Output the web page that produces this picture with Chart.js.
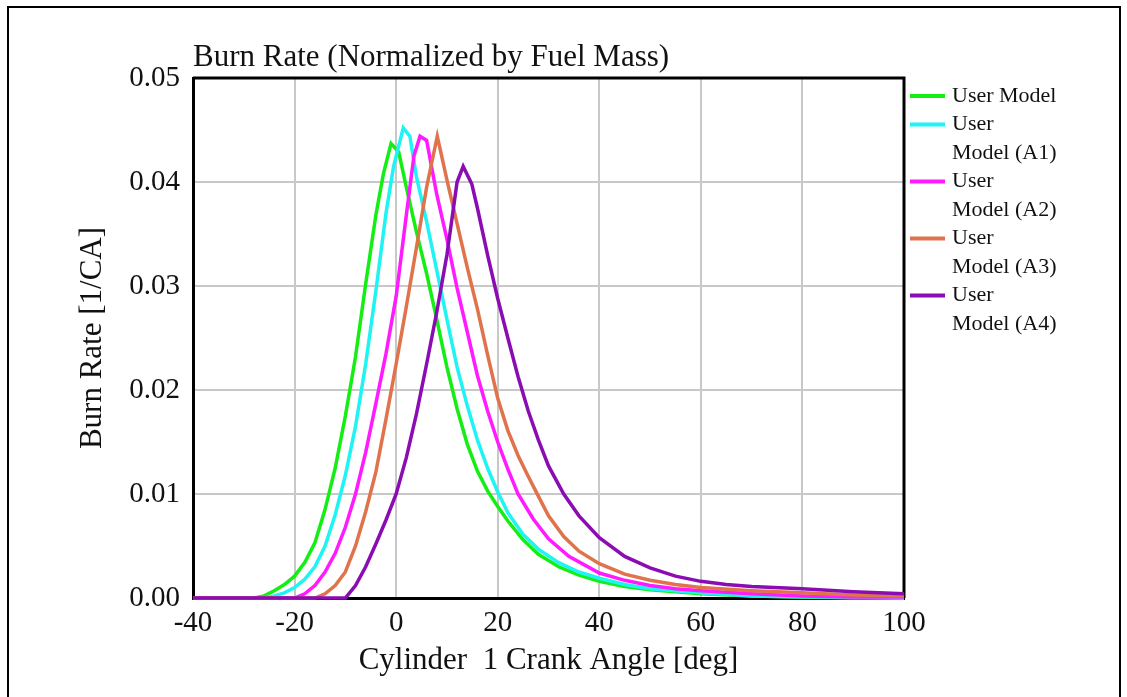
<!DOCTYPE html>
<html><head><meta charset="utf-8">
<script src="https://cdn.jsdelivr.net/npm/chart.js@4.4.0/dist/chart.umd.min.js"></script>
<style>html,body{margin:0;padding:0;background:#fff;}#wrap{width:1127px;height:697px;}</style>
</head><body><div id="wrap"><canvas id="c" width="1127" height="697"></canvas></div>
<script>
const titleText = 'Burn Rate (Normalized by Fuel Mass)';
const xTitle = 'Cylinder  1 Crank Angle [deg]';
const yTitle = 'Burn Rate [1/CA]';
const seriesLabels = ['User Model', 'User Model (A1)', 'User Model (A2)', 'User Model (A3)', 'User Model (A4)'];
const legendLines = [['User Model'], ['User', 'Model (A1)'], ['User', 'Model (A2)'], ['User', 'Model (A3)'], ['User', 'Model (A4)']];
const seriesColors = ['#14ee14', '#1ff4f4', '#ff1aff', '#e0724c', '#8a0cb2'];

const greenX = [-40,-28,-26,-24,-22,-20,-18,-16,-14,-12,-10,-8,-6,-4,-2.5,-1,0.5,2,4,6,8,10,12,14,16,18,20,22,25,28,32,36,40,45,50,55,60,70,80,90,100];
const greenY = [0,0,0.0002,0.0007,0.0013,0.0021,0.0034,0.0053,0.0085,0.0125,0.0175,0.0232,0.0302,0.0368,0.0408,0.0437,0.0429,0.0395,0.0352,0.0312,0.0268,0.0222,0.0182,0.0148,0.0122,0.0103,0.0088,0.0074,0.0056,0.0042,0.0030,0.0022,0.0016,0.0011,0.0008,0.0006,0.0004,0.0002,0.0001,0,0];

const cyanX = [-40,-26,-24,-22,-20,-18,-16,-14,-12,-10,-8,-6,-4,-2,-0.5,1.4,2.7,4,6,8,10,12,14,16,18,20,22,25,28,32,36,40,45,50,55,60,70,80,90,100];
const cyanY = [0,0,0.0002,0.0005,0.0010,0.0018,0.0030,0.0050,0.0080,0.0118,0.0165,0.0225,0.0295,0.0370,0.0415,0.0452,0.0444,0.0405,0.0362,0.0315,0.0268,0.0222,0.0185,0.0152,0.0125,0.0102,0.0082,0.0061,0.0047,0.0034,0.0025,0.0019,0.0013,0.0009,0.0007,0.0005,0.0002,0.0001,0.0001,0];

const magentaX = [-40,-20,-18,-16,-14,-12,-10,-8,-6,-4,-2,0,2,3.5,4.7,6,8,10,12,14,16,18,20,22,24,27,30,34,40,45,50,55,60,70,80,90,100];
const magentaY = [0,0,0.0004,0.0012,0.0025,0.0043,0.0068,0.0100,0.0140,0.0187,0.0235,0.0290,0.0368,0.0425,0.0444,0.0440,0.0388,0.0345,0.0298,0.0256,0.0214,0.0180,0.0150,0.0124,0.0100,0.0076,0.0057,0.0040,0.0024,0.0017,0.0012,0.0009,0.0007,0.0004,0.0002,0.0001,0.0001];

const orangeX = [-40,-16,-14,-12,-10,-8,-6,-4,-2,0,2,4,6,8.1,10,12,14,16,18,20,22,24,26,28,30,33,36,40,45,50,55,60,70,80,90,100];
const orangeY = [0,0,0.0004,0.0012,0.0025,0.0050,0.0083,0.0121,0.0172,0.0225,0.0280,0.0337,0.0395,0.0444,0.0402,0.0360,0.0318,0.0278,0.0234,0.0192,0.0161,0.0137,0.0117,0.0098,0.0079,0.0059,0.0045,0.0033,0.0023,0.0017,0.0013,0.0010,0.0007,0.0005,0.0003,0.0002];

const purpleX = [-40,-10,-8,-6,-4,-2,0,2,4,6,8,10,11,12,13.2,14.9,16,18,20,22,24,26,28,30,33,36,40,45,50,55,60,65,70,80,90,100];
const purpleY = [0,0,0.0012,0.0030,0.0052,0.0075,0.0100,0.0135,0.0177,0.0225,0.0275,0.0330,0.0365,0.0400,0.0415,0.0398,0.0375,0.0330,0.0288,0.0250,0.0213,0.0180,0.0152,0.0127,0.0100,0.0079,0.0058,0.0040,0.0029,0.0021,0.0016,0.0013,0.0011,0.0009,0.0006,0.0004];

const xTicks = [-40,-20,0,20,40,60,80,100];
const yTicks = [0,0.01,0.02,0.03,0.04,0.05];

const allX = [greenX, cyanX, magentaX, orangeX, purpleX];
const allY = [greenY, cyanY, magentaY, orangeY, purpleY];

const SERIF = '"Liberation Serif", "Times New Roman", serif';

const datasets = seriesLabels.map((lab, i) => ({
  label: lab,
  data: allX[i].map((x, j) => ({x: x, y: allY[i][j]})),
  borderColor: seriesColors[i],
  backgroundColor: seriesColors[i],
  borderWidth: 3.5,
  pointRadius: 0,
  tension: 0,
  fill: false,
  order: seriesLabels.length - i,
  clip: 4
}));

const decor = {
  id: 'decor',
  beforeDraw(chart) {
    const ctx = chart.ctx;
    ctx.save();
    ctx.fillStyle = '#fff';
    ctx.fillRect(0, 0, chart.width, chart.height);
    ctx.strokeStyle = '#000';
    ctx.lineWidth = 2;
    ctx.beginPath();
    ctx.moveTo(8, 697); ctx.lineTo(8, 7); ctx.lineTo(1120, 7); ctx.lineTo(1120, 697);
    ctx.stroke();
    ctx.restore();
  },
  beforeDatasetsDraw(chart) {
    const a = chart.chartArea, ctx = chart.ctx;
    ctx.save();
    ctx.strokeStyle = '#000';
    ctx.lineWidth = 3;
    ctx.beginPath();
    ctx.moveTo(a.left, a.top); ctx.lineTo(a.right, a.top); ctx.lineTo(a.right, a.bottom);
    ctx.stroke();
    ctx.restore();
  },
  afterDraw(chart) {
    const a = chart.chartArea, ctx = chart.ctx;
    ctx.save();
    ctx.fillStyle = '#111';
    ctx.font = '31px ' + SERIF;
    ctx.textAlign = 'left';
    ctx.textBaseline = 'alphabetic';
    ctx.fillText(titleText, a.left, 66);
    ctx.font = '22px ' + SERIF;
    ctx.textBaseline = 'middle';
    let row = 0;
    legendLines.forEach((lines, i) => {
      const y0 = 96 + 28.5 * row;
      ctx.strokeStyle = chart.data.datasets[i].borderColor;
      ctx.lineWidth = 4;
      ctx.beginPath();
      ctx.moveTo(910, y0); ctx.lineTo(945, y0);
      ctx.stroke();
      lines.forEach((t, k) => {
        ctx.fillStyle = '#111';
        ctx.fillText(t, 952, 96 + 28.5 * (row + k));
      });
      row += lines.length;
    });
    ctx.restore();
  }
};

new Chart(document.getElementById('c'), {
  type: 'line',
  data: { datasets: datasets },
  options: {
    responsive: false,
    animation: false,
    devicePixelRatio: 1,
    layout: { padding: { left: 0, top: 78, right: 223, bottom: 0 } },
    plugins: { legend: { display: false }, title: { display: false }, tooltip: { enabled: false } },
    scales: {
      x: {
        type: 'linear', min: -40, max: 100,
        afterFit(s) { s.height = 99; },
        afterBuildTicks(s) { s.ticks = xTicks.map(v => ({value: v})); },
        ticks: { color: '#111', padding: 8, font: { family: SERIF, size: 29 }, maxRotation: 0, autoSkip: false },
        grid: { color: '#c8c8c8', lineWidth: 2, drawTicks: false },
        border: { color: '#000', width: 3 },
        title: { display: true, text: xTitle, color: '#111', font: { family: SERIF, size: 31 }, padding: { top: 0, bottom: 18 } }
      },
      y: {
        type: 'linear', min: 0, max: 0.05,
        afterFit(s) { s.width = 193; },
        afterBuildTicks(s) { s.ticks = yTicks.map(v => ({value: v})); },
        ticks: { color: '#111', padding: 13, font: { family: SERIF, size: 29 }, callback: v => v.toFixed(2) },
        grid: { color: '#c8c8c8', lineWidth: 2, drawTicks: false },
        border: { color: '#000', width: 3 },
        title: { display: true, text: yTitle, color: '#111', font: { family: SERIF, size: 31 }, padding: { top: 74, bottom: 0 } }
      }
    }
  },
  plugins: [decor]
});
</script>
</body></html>
